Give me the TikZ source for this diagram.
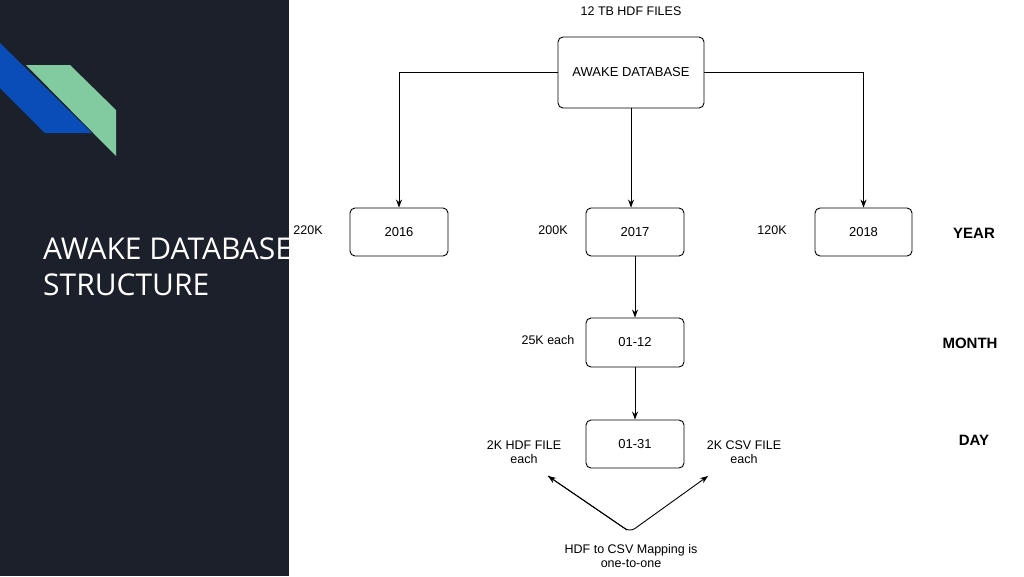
\documentclass[tikz,border=0pt]{standalone}
\usepackage{fontspec}
\setmainfont{Liberation Sans}
\newfontfamily\titlefont{Open Sans}
\usetikzlibrary{arrows.meta}
\definecolor{panel}{HTML}{1C202B}
\definecolor{lblue}{HTML}{0A4DB8}
\definecolor{lgreen}{HTML}{82CBA0}
\begin{document}
\begin{tikzpicture}[x=1pt,y=-1pt,
  box/.style={draw,rounded corners=5pt,line width=0.9pt,minimum height=48pt,font=\fontsize{13}{15}\selectfont,inner sep=0pt},
  lab/.style={font=\fontsize{12.5}{14}\selectfont,align=center,inner sep=0pt},
  lvl/.style={font=\fontsize{15}{17}\selectfont\bfseries,inner sep=0pt},
  con/.style={line width=0.9pt,-{Stealth[length=8pt,width=6pt]}}]
\useasboundingbox (0,0) rectangle (1024,576);
\fill[panel] (0,0) rectangle (289,576);
\fill[lblue] (0,43) -- (92,133) -- (45,133) -- (0,88) -- cycle;
\fill[lgreen] (26,65) -- (70,65) -- (116,110) -- (116,156) -- cycle;
\node[anchor=west,text=white,font=\titlefont\fontsize{30}{36}\selectfont,align=left,inner sep=0pt] (title) at (43,267) {AWAKE DATABASE\\STRUCTURE};
\fill[white] (289,0) rectangle (1024,576);
\node[lab] (top) at (631,11) {12 TB HDF FILES};
\node[box,minimum width=146pt,minimum height=71pt] (db) at (631,72.5) {AWAKE DATABASE};
\node[box,minimum width=98pt] (y16) at (399,232) {2016};
\node[box,minimum width=98pt] (y17) at (635,232) {2017};
\node[box,minimum width=97pt] (y18) at (863.5,232) {2018};
\node[box,minimum width=98pt,minimum height=49pt] (m) at (635,342.5) {01-12};
\node[box,minimum width=98pt] (d) at (635,444) {01-31};
\node[lab] (k16) at (308,230) {220K};
\node[lab] (k17) at (553,230) {200K};
\node[lab] (k18) at (772,230) {120K};
\node[lab] (k12) at (548,340) {25K each};
\node[lab] (hdf) at (524,452) {2K HDF FILE\\each};
\node[lab] (csv) at (744,452) {2K CSV FILE\\each};
\node[lab] (map) at (631,556) {HDF to CSV Mapping is\\one-to-one};
\node[lvl] (year) at (974,233) {YEAR};
\node[lvl] (month) at (970,343) {MONTH};
\node[lvl] (day) at (974,440) {DAY};
\draw[con] (db.west) -| (y16.north);
\draw[con] (db.east) -| (y18.north);
\draw[con] (db.south) -- (db.south|-y17.north);
\draw[con] (y17) -- (m);
\draw[con] (m) -- (d);
\coordinate (v) at (630,532);
\coordinate (l) at (548,476);
\coordinate (r) at (708,476);
\draw[con,rounded corners=6pt] (l) -- (v) -- (r);
\draw[con] (v) ++(-3,-2) -- (l);
\end{tikzpicture}
\end{document}
